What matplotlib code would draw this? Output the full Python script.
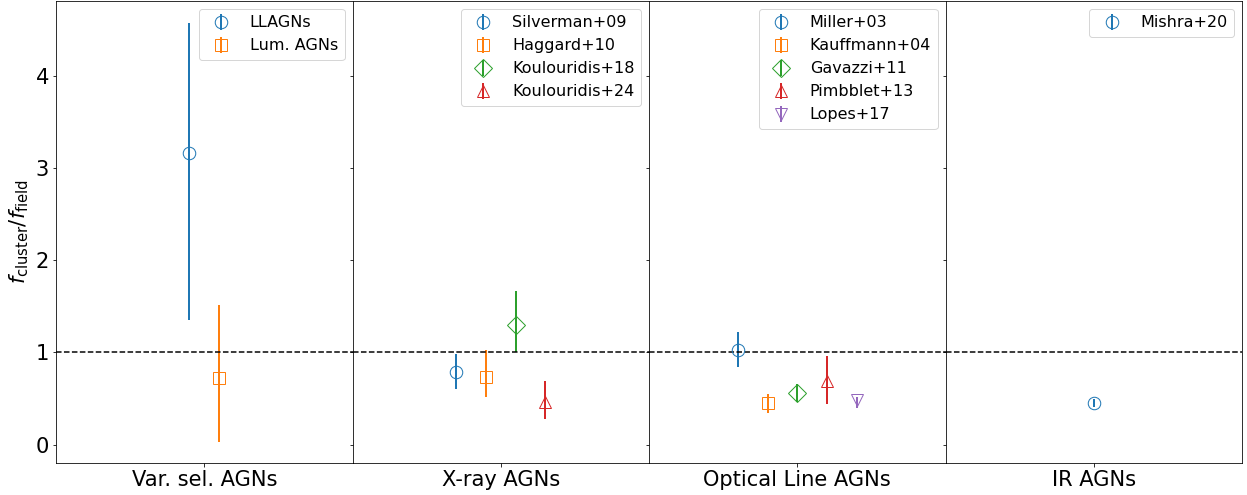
import matplotlib
matplotlib.use("Agg")
import matplotlib.pyplot as plt

# Категории (панели)
categories = ["Var. sel. AGNs", "X-ray AGNs", "Optical Line AGNs", "IR AGNs"]

# Подписи работ в каждой панели
labels_var = ["LLAGNs", "Lum. AGNs"]
labels_xray = ["Silverman+09", "Haggard+10", "Koulouridis+18", "Koulouridis+24"]
labels_opt = ["Miller+03", "Kauffmann+04", "Gavazzi+11", "Pimbblet+13", "Lopes+17"]
labels_ir = ["Mishra+20"]

# Значения f_cluster / f_field и нижняя/верхняя граница ошибок
vals_var = [3.16, 0.72]
lo_var = [1.35, 0.03]
hi_var = [4.57, 1.51]

vals_xray = [0.79, 0.73, 1.30, 0.46]
lo_xray = [0.60, 0.52, 1.00, 0.28]
hi_xray = [0.98, 1.02, 1.67, 0.69]

vals_opt = [1.03, 0.45, 0.56, 0.69, 0.48]
lo_opt = [0.84, 0.34, 0.46, 0.44, 0.40]
hi_opt = [1.22, 0.55, 0.66, 0.96, 0.52]

vals_ir = [0.45]
lo_ir = [0.41]
hi_ir = [0.49]

markers = ["o", "s", "D", "^", "v"]
colors = ["tab:blue", "tab:orange", "tab:green", "tab:red", "tab:purple"]

panels = [
    (labels_var, vals_var, lo_var, hi_var),
    (labels_xray, vals_xray, lo_xray, hi_xray),
    (labels_opt, vals_opt, lo_opt, hi_opt),
    (labels_ir, vals_ir, lo_ir, hi_ir),
]

fig, axes = plt.subplots(1, 4, sharey=True, figsize=(1247 / 72, 495 / 72), dpi=72)
fig.subplots_adjust(left=56 / 1247, right=1242 / 1247, top=1 - 1 / 495,
                    bottom=1 - 463 / 495, wspace=0)

for ax, cat, (labels, vals, lo, hi) in zip(axes, categories, panels):
    n = len(vals)
    for i in range(n):
        x = 0.1 * (i - (n - 1) / 2)  # смещение точек внутри панели
        yerr = [[vals[i] - lo[i]], [hi[i] - vals[i]]]
        ax.errorbar([x], [vals[i]], yerr=yerr, fmt=markers[i], color=colors[i],
                    mfc="none", ms=12.5, elinewidth=2, label=labels[i])
    ax.axhline(1, color="black", linestyle="--", lw=1.5)
    ax.set_xlim(-0.5, 0.5)
    ax.set_xticks([0])
    ax.set_xticklabels([cat], fontsize=21)
    ax.tick_params(axis="y", labelsize=21)
    ax.legend(loc="upper right", fontsize=16)

axes[0].set_ylim(-0.2, 4.81)
axes[0].set_yticks([0, 1, 2, 3, 4])
axes[0].set_ylabel(r"$f_{\rm cluster}/f_{\rm field}$", fontsize=21)

plt.savefig("out.png", dpi=72)
